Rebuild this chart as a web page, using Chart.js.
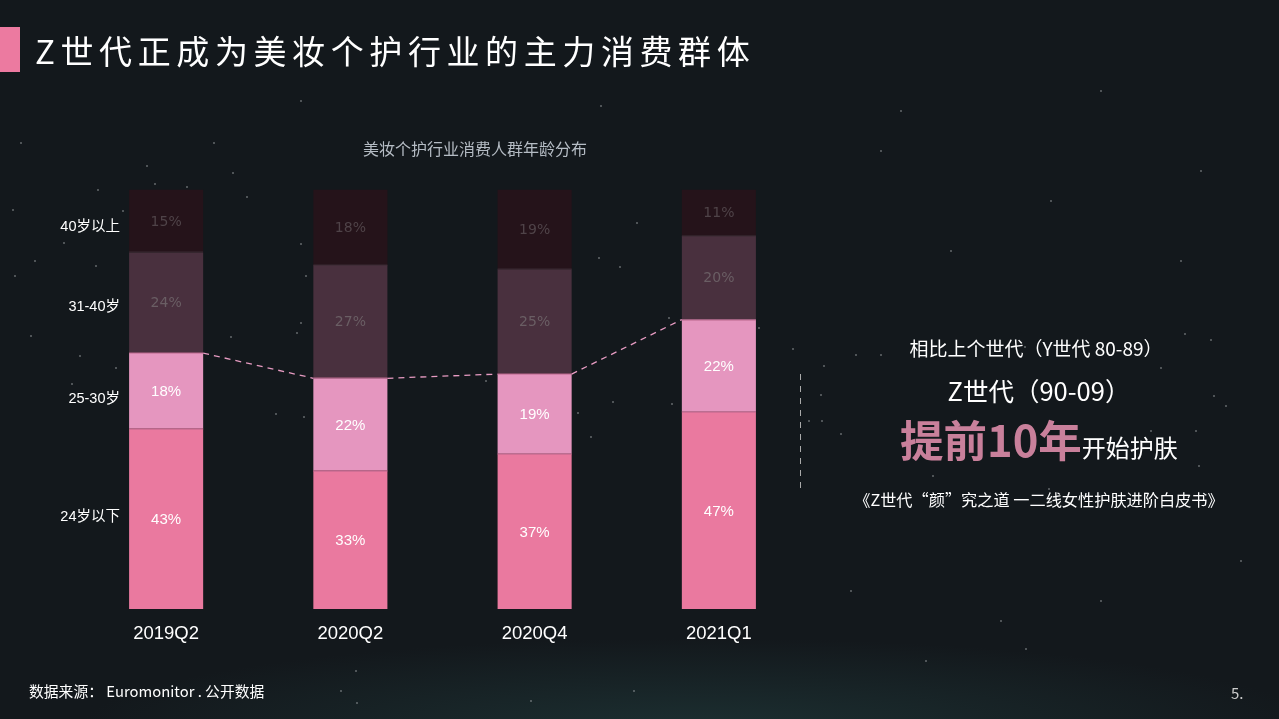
<!DOCTYPE html>
<html><head><meta charset="utf-8">
<script src="https://cdn.jsdelivr.net/npm/chart.js@4"></script>
<style>
html,body{margin:0;padding:0;background:#13181c;overflow:hidden}
#w{position:relative;width:1279px;height:719px;font-family:"Noto Sans CJK SC",sans-serif;color:#fff;
background:radial-gradient(ellipse 620px 90px at 700px 728px,#1c2f31 0%,rgba(28,46,48,0) 100%),#13181c}
#c{position:absolute;left:0;top:0}
#s{position:absolute;left:0;top:0;width:2px;height:2px}
.t{position:absolute;white-space:nowrap}
.p{font-family:"Noto Sans CJK TC"}
</style></head><body><div id="w">
<div id="s"></div>
<canvas id="c" width="1279" height="719"></canvas>
<div class="t" style="left:0;top:27px;width:20px;height:45px;background:#ec7aa0"></div>
<div class="t" style="left:35px;top:27px;font-size:33px;line-height:46px;letter-spacing:5.6px;color:#fff">Z世代正成为美妆个护行业的主力消费群体</div>
<div class="t" style="left:363px;top:138px;font-size:16px;line-height:20px;color:#b5bcc4">美妆个护行业消费人群年龄分布</div>
<div class="t" style="left:800px;top:374px;height:118px;width:1px;background:repeating-linear-gradient(180deg,#aaa 0 6px,transparent 6px 12px)"></div>
<div class="t" style="left:800px;width:472px;text-align:center;top:336px;font-size:19px;line-height:24px"><span>相比上个世代</span><span class="p">（</span>Y世代 80-89<span class="p">）</span></div>
<div class="t" style="left:803px;width:472px;text-align:center;top:373px;font-size:25.5px;line-height:34px">Z世代<span class="p">（</span>90-09<span class="p">）</span></div>
<div class="t" style="left:900px;top:411px;font-size:43.5px;line-height:56px;font-weight:700;color:#c9809b">提前10年<span style="font-size:24px;font-weight:400;color:#fff">开始护肤</span></div>
<div class="t" style="left:803px;width:472px;text-align:center;top:488px;font-size:16.2px;line-height:22px">《Z世代“颜”究之道 一二线女性护肤进阶白皮书》</div>
<div class="t" style="left:29px;top:681px;font-size:14.8px;line-height:20px">数据来源： Euromonitor . 公开数据</div>
<div class="t" style="left:1231px;top:683px;font-size:15px;line-height:20px;color:#ccc">5.</div>
</div>
<script>
const categories=["2019Q2","2020Q2","2020Q4","2021Q1"];
const ageGroups=["24岁以下","25-30岁","31-40岁","40岁以上"];
const under24=[43,33,37,47];
const age25to30=[18,22,19,22];
const age31to40=[24,27,25,20];
const over40=[15,18,19,11];
const seriesColors=["#ea799f","#e596bf","#49303e","#25131a"];
const seamColors=["#b9668b","#b9668b","#3a2a33",null];
const labelColors=["#fff","#fff","#6a5e64","#4f4348"];
const groupLabelPos=[517,399,307,227];
const seriesData=[under24,age25to30,age31to40,over40];
const starPoints=[[20,142],[146,165],[154,183],[186,186],[97,189],[246,196],[232,172],[213,142],[12,209],[122,210],[63,242],[34,260],[14,275],[95,265],[30,335],[79,355],[115,367],[71,383],[230,336],[300,322],[296,332],[275,413],[303,416],[300,243],[305,275],[636,222],[598,257],[619,266],[668,317],[758,327],[485,380],[577,412],[612,401],[671,403],[590,436],[823,365],[855,354],[880,354],[792,348],[820,394],[1024,346],[1184,333],[1210,339],[1160,367],[1213,395],[1225,405],[821,420],[840,433],[1150,430],[1195,430],[1198,465],[1140,440],[808,420],[932,475],[1048,488],[300,100],[600,105],[900,110],[1100,90],[1200,170],[1050,200],[950,250],[880,150],[1180,260],[1240,560],[1100,600],[850,590],[1000,620],[356,702],[355,670],[340,690],[530,700],[633,690],[1025,648],[925,660]];
document.getElementById('s').style.boxShadow=starPoints.map(p=>p[0]+'px '+p[1]+'px 0 0 rgba(170,175,178,.4)').join(',');
Chart.defaults.font.family='"Liberation Sans",Arial,sans-serif';
const connector={id:'connector',afterDatasetsDraw(ch){
 const c=ch.ctx,m=ch.getDatasetMeta(1).data;
 c.save();c.strokeStyle='#e79bc2';c.lineWidth=1.3;c.setLineDash([6,5]);c.beginPath();
 for(let i=0;i<m.length-1;i++){
  const a=m[i],b=m[i+1];
  c.moveTo(a.x+a.width/2,a.y);c.lineTo(b.x-b.width/2,b.y);
 }
 c.stroke();c.restore();
}};
const pct={id:'pct',afterDatasetsDraw(ch){
 const c=ch.ctx;c.save();c.textAlign='center';c.textBaseline='middle';
 ch.data.datasets.forEach((d,i)=>{
  ch.getDatasetMeta(i).data.forEach((e,j)=>{
   if(seamColors[i]){c.fillStyle=seamColors[i];c.fillRect(e.x-e.width/2,Math.round(e.y)-0.5,e.width,1);}
   c.fillStyle=labelColors[i];
   c.font=(i>1?'14px "DejaVu Sans"':'15px "Liberation Sans"');
   c.fillText(d.data[j]+'%',e.x,(e.y+e.base)/2+1);
  });
 });
 c.fillStyle='#fff';c.font='14.5px "Liberation Sans","Noto Sans CJK SC"';c.textAlign='right';
 ageGroups.forEach((g,i)=>c.fillText(g,120,groupLabelPos[i]));
 c.restore();
}};
new Chart(document.getElementById('c'),{type:'bar',
 data:{labels:categories,datasets:seriesData.map((d,i)=>({label:ageGroups[i],data:d,backgroundColor:seriesColors[i],borderWidth:0,inflateAmount:0,barPercentage:0.402,categoryPercentage:1}))},
 options:{responsive:false,animation:false,
  layout:{padding:{left:74,right:468,top:189.5,bottom:70}},
  plugins:{legend:{display:false},tooltip:{enabled:false},title:{display:false}},
  scales:{
   x:{stacked:true,afterFit(s){s.height=40},grid:{display:false},border:{display:false},ticks:{color:'#fff',font:{size:18.5},padding:6,maxRotation:0}},
   y:{stacked:true,min:0,max:100,display:false}
  }},
 plugins:[connector,pct]});
</script></body></html>
